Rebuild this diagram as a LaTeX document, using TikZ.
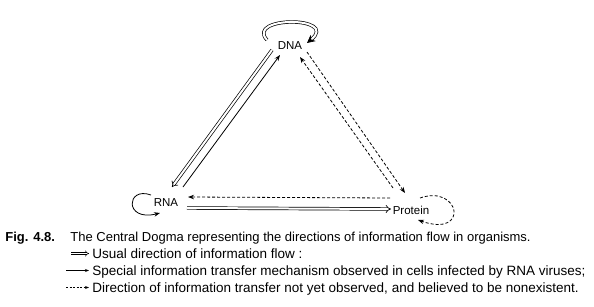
\documentclass[tikz,border=0pt]{standalone}
\usepackage{fontspec}
\setmainfont{Liberation Sans}
\usetikzlibrary{arrows.meta}

\begin{document}
\begin{tikzpicture}[
  x=1pt,y=1pt,
  >={Stealth[length=6pt,width=4.5pt]},
  line width=0.8pt,
  molecule/.style={font=\fontsize{11.5}{13}\selectfont,inner sep=1pt},
  caption/.style={font=\fontsize{13}{15}\selectfont,anchor=base west,inner sep=0pt},
  legendline/.style={caption,font=\fontsize{13.5}{15}\selectfont},
  usual/.style={double,double distance=2pt,line width=0.7pt,-{Implies[scale=1.3]}},
  special/.style={->},
  unseen/.style={->,dash pattern=on 3pt off 2pt}
]
  \useasboundingbox (0,0) rectangle (594,306);

  \node[molecule] (dna) at (290,260) {DNA};
  \node[molecule] (rna) at (166,103) {RNA};
  \node[molecule] (protein) at (411,96) {Protein};

  % DNA <-> RNA
  \draw[usual] ([shift={(-18,-4)}]dna.center) -- ([shift={(6,16)}]rna.center);
  \draw[special] ([shift={(17,16)}]rna.center) -- ([shift={(-10,-9)}]dna.center);
  % DNA <-> Protein
  \draw[unseen] ([shift={(-18,22)}]protein.center) -- ([shift={(10,-11)}]dna.center);
  \draw[unseen] ([shift={(17,-6)}]dna.center) -- ([shift={(-6,17)}]protein.center);
  % RNA <-> Protein
  \draw[unseen] ([shift={(-21,12)}]protein.center) -- ([shift={(22,6)}]rna.center);
  \draw[usual] ([shift={(21,-5)}]rna.center) -- ([shift={(-20,1)}]protein.center);

  % self loops
  \draw[double,double distance=2pt,line width=0.7pt,-{Stealth[length=8pt,width=8pt,fill=black]}]
    ([shift={(-23,6)}]dna.center) .. controls (245,290) and (340,290) .. ([shift={(17,3)}]dna.center);
  \draw[special] ([shift={(-15,8)}]rna.center) .. controls (126,120) and (124,84) .. ([shift={(-6,-10)}]rna.center);
  \draw[unseen] ([shift={(9,12)}]protein.center) .. controls (460,122) and (470,68) .. ([shift={(7,-10)}]protein.center);

  % caption
  \node[caption,font=\fontsize{13}{15}\selectfont\bfseries] (fig) at (5,65) {Fig. 4.8.};
  \node[caption] (title) at (70,65) {The Central Dogma representing the directions of information flow in organisms.};
  \node[legendline] (usualtext) at (92,48) {Usual direction of information flow :};
  \node[legendline] (specialtext) at (92,31) {Special information transfer mechanism observed in cells infected by RNA viruses;};
  \node[legendline] (unseentext) at (92,14) {Direction of information transfer not yet observed, and believed to be nonexistent.};

  \coordinate (usualkey) at (71,52.5);
  \coordinate (usualtip) at (89,52.5);
  \coordinate (specialkey) at (66,35.5);
  \coordinate (specialtip) at (89,35.5);
  \coordinate (unseenkey) at (66,18.5);
  \coordinate (unseentip) at (89,18.5);
  \draw[double,double distance=1.5pt,line width=0.5pt,-{Implies}] (usualkey) -- (usualtip);
  \draw[special,>={Stealth[length=4pt,width=3pt]}] (specialkey) -- (specialtip);
  \draw[unseen,>={Stealth[length=4pt,width=3pt]},dash pattern=on 2pt off 1.5pt] (unseenkey) -- (unseentip);
\end{tikzpicture}
\end{document}
